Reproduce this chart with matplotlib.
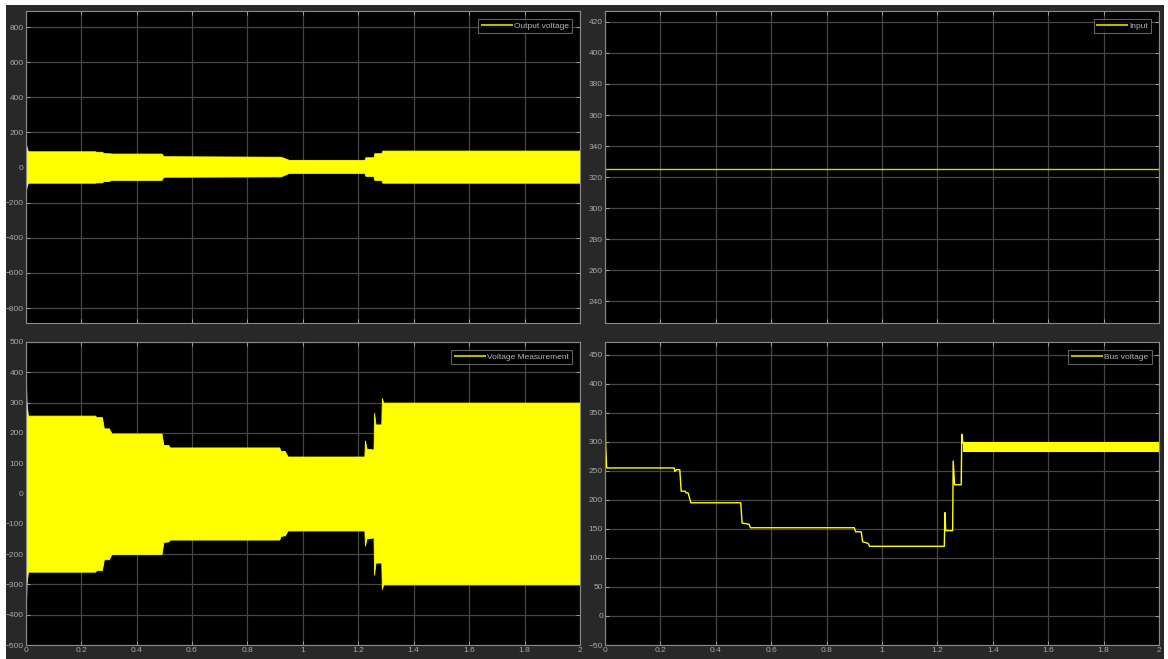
import matplotlib
matplotlib.use("Agg")
import matplotlib.pyplot as plt
from matplotlib.patches import Rectangle

# ---- Output voltage envelope (dense AC waveform shown as band) ----
t_out = [0, 0.003, 0.008, 0.25, 0.255, 0.275, 0.282, 0.30, 0.31, 0.49, 0.497,
         0.92, 0.95, 1.222, 1.226, 1.255, 1.258, 1.283, 1.287, 2.0]
out_upper = [143, 120, 93, 93, 90, 90, 82, 82, 80, 80, 65,
             62, 44, 44, 59, 59, 82, 82, 97, 97]
out_lower = [-141, -110, -86, -86, -84, -84, -76, -76, -70, -70, -52,
             -50, -30, -30, -47, -47, -70, -70, -86, -86]

# ---- Input (DC) ----
t_in = [0, 2.0]
v_in = [325, 325]

# ---- Voltage Measurement envelope ----
t_vm = [0, 0.003, 0.008, 0.25, 0.255, 0.275, 0.282, 0.30, 0.31, 0.49, 0.497,
        0.515, 0.52, 0.915, 0.92, 0.935, 0.945, 1.222, 1.224, 1.23, 1.255,
        1.257, 1.262, 1.283, 1.285, 1.29, 2.0]
vm_upper = [400, 300, 257, 257, 252, 252, 215, 215, 198, 198, 160,
            160, 152, 152, 140, 140, 122, 122, 175, 148, 145,
            267, 228, 228, 315, 300, 300]
vm_lower = [-400, -300, -258, -258, -253, -253, -217, -217, -200, -200, -160,
            -158, -152, -152, -140, -138, -122, -122, -172, -148, -145,
            -268, -228, -228, -315, -300, -300]

# ---- Bus voltage ----
t_bus = [0, 0.0005, 0.002, 0.006, 0.25, 0.252, 0.258, 0.27, 0.275, 0.29, 0.293,
         0.30, 0.31, 0.49, 0.495, 0.52, 0.525, 0.90, 0.905, 0.925, 0.93, 0.95,
         0.955, 1.225, 1.227, 1.23, 1.255, 1.257, 1.262, 1.286, 1.288, 1.292]
v_bus = [0, 400, 300, 255, 255, 249, 252, 252, 215, 215, 212,
         212, 195, 195, 160, 158, 152, 152, 145, 145, 128, 125,
         120, 120, 178, 147, 147, 267, 226, 226, 313, 298]
# ripple band of the bus voltage after the last step
t_bus_ripple = [1.292, 2.0]
bus_ripple_low = [284, 284]
bus_ripple_high = [300, 300]

x_ticks = [0, 0.2, 0.4, 0.6, 0.8, 1, 1.2, 1.4, 1.6, 1.8, 2]
x_ticklabels = ["0", "0.2", "0.4", "0.6", "0.8", "1", "1.2", "1.4", "1.6", "1.8", "2"]

YEL = "#ffff00"
FIG_BG = "#282828"
TXT = "#a9a9a9"
GRID = "#474747"
SPINE = "#8a8a8a"

plt.rcParams["font.family"] = ["Liberation Sans", "DejaVu Sans"]

W, H = 1168, 659
fig = plt.figure(figsize=(W / 100, H / 100), dpi=100, facecolor="white")
fig.patches.append(Rectangle((6 / W, 0), (1164 - 6) / W, 1 - 5 / H,
                             transform=fig.transFigure, facecolor=FIG_BG,
                             edgecolor="none", zorder=-10))


def make_axes(x0, y0, x1, y1):
    ax = fig.add_axes([x0 / W, 1 - y1 / H, (x1 - x0) / W, (y1 - y0) / H])
    ax.set_facecolor("black")
    for s in ax.spines.values():
        s.set_color(SPINE)
        s.set_linewidth(0.8)
    ax.grid(True, color=GRID, linewidth=0.9)
    ax.set_axisbelow(True)
    ax.tick_params(colors=TXT, labelsize=6, direction="in", length=3,
                   width=0.6, top=True, right=True, pad=1.5)
    ax.set_xlim(0, 2)
    ax.set_xticks(x_ticks)
    ax.set_xticklabels(x_ticklabels)
    return ax


def add_legend(ax, label):
    h, = ax.plot([], [], color="#b8b800", linewidth=1.5, label=label)
    leg = ax.legend(handles=[h], loc="upper right", fontsize=6,
                    frameon=True, fancybox=False, handlelength=3.6,
                    borderpad=0.4, borderaxespad=0.9, handletextpad=0.3)
    leg.get_frame().set_facecolor("black")
    leg.get_frame().set_edgecolor("#7a7a7a")
    leg.get_frame().set_linewidth(0.8)
    for txt in leg.get_texts():
        txt.set_color("#b5b5b5")


# Output voltage
ax1 = make_axes(25.7, 11, 580, 323)
ax1.fill_between(t_out, out_lower, out_upper, color=YEL, linewidth=0.6,
                 edgecolor=YEL)
ax1.set_ylim(-885, 892)
ax1.set_yticks(range(-800, 801, 200))
ax1.tick_params(labelbottom=False)
add_legend(ax1, "Output voltage")

# Input
ax2 = make_axes(605, 11, 1159, 323)
ax2.plot(t_in, v_in, color="#d6d600", linewidth=1.0)
ax2.set_ylim(226, 427)
ax2.set_yticks(range(240, 421, 20))
ax2.tick_params(labelbottom=False)
add_legend(ax2, "Input")

# Voltage Measurement
ax3 = make_axes(25.7, 342, 580, 645)
ax3.fill_between(t_vm, vm_lower, vm_upper, color=YEL, linewidth=0.6,
                 edgecolor=YEL)
ax3.set_ylim(-500, 500)
ax3.set_yticks(range(-500, 501, 100))
add_legend(ax3, "Voltage Measurement")

# Bus voltage
ax4 = make_axes(605, 342, 1159, 645)
ax4.plot(t_bus, v_bus, color=YEL, linewidth=1.0)
ax4.fill_between(t_bus_ripple, bus_ripple_low, bus_ripple_high, color=YEL,
                 linewidth=0.8, edgecolor=YEL)
ax4.set_ylim(-50, 472)
ax4.set_yticks(range(-50, 451, 50))
add_legend(ax4, "Bus voltage")

fig.savefig("out.png", dpi=100, facecolor=fig.get_facecolor())
